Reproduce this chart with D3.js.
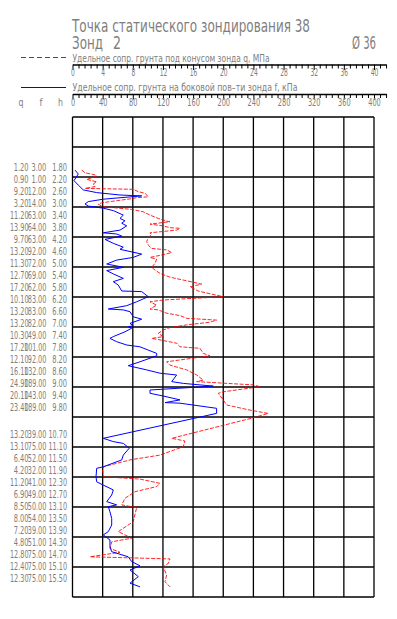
<!DOCTYPE html>
<html>
<head>
<meta charset="utf-8">
<script src="https://cdn.jsdelivr.net/npm/d3@7"></script>
<style>
body { margin: 0; background: #fff; }
svg { display: block; }
</style>
</head>
<body>
<svg width="397" height="619"></svg>
<script>
// cone resistance q, MPa (red) vs depth, m
const depthQ = [1.77, 1.86, 1.93, 1.97, 2.08, 2.16, 2.23, 2.32, 2.38, 2.41, 2.49, 2.54, 2.66, 2.69, 2.73, 2.79, 2.86, 2.91, 2.99,
	3.08, 3.16, 3.27, 3.38, 3.47, 3.49, 3.57, 3.63, 3.69, 3.71, 3.77, 3.86, 3.93, 4.01, 4.16, 4.27, 4.38, 4.43, 4.52, 4.60, 4.68,
	4.74, 4.88, 5.01, 5.10, 5.21, 5.34, 5.46, 5.57, 5.66, 5.74, 5.80, 5.99, 6.10, 6.16, 6.27, 6.40, 6.43, 6.54, 6.62, 6.71, 6.77,
	6.84, 6.93, 7.02, 7.10, 7.21, 7.32, 7.38, 7.43, 7.54, 7.66, 7.71, 7.88, 7.96, 8.16, 8.27, 8.43, 8.60, 8.77, 8.82, 8.93, 8.99,
	9.16, 9.21, 9.43, 9.60, 9.77, 9.88, 10.04, 10.71, 10.80, 10.99, 11.27, 11.43, 11.66, 11.77, 11.99, 12.07, 12.21, 12.32, 12.49,
	12.71, 12.93, 13.02, 13.49, 13.82, 14.04, 14.16, 14.38, 14.51, 14.66, 14.73, 14.88, 14.99, 15.27, 15.49, 15.66];
const valQ = [1.22, 1.66, 2.98, 3.21, 1.88, 3.21, 2.76, 2.98, 1.66, 8.06, 8.73, 9.62, 10.05, 8.51, 7.63, 5.86, 3.87, 3.42, 4.08,
	7.85, 9.39, 10.28, 11.38, 12.49, 12.93, 10.28, 12.04, 12.93, 14.26, 13.82, 10.28, 10.5, 10.05, 9.84, 10.05, 10.5, 12.49, 13.16,
	11.83, 10.28, 11.17, 10.94, 10.5, 10.94, 11.6, 12.93, 15.15, 17.14, 15.58, 16.25, 16.64, 20.0, 12.04, 10.28, 11.17, 10.28,
	11.38, 12.49, 14.26, 15.15, 19.12, 18.24, 15.15, 12.93, 12.04, 11.38, 12.04, 10.5, 11.6, 13.82, 14.26, 16.91, 17.35, 18.24,
	12.49, 12.93, 15.15, 16.47, 17.35, 16.47, 23.98, 24.87, 20.0, 19.34, 20.0, 20.45, 23.54, 25.97, 23.77, 13.16, 14.92, 14.69,
	11.6, 7.63, 4.08, 4.0, 4.08, 8.95, 11.6, 11.17, 8.29, 6.96, 6.53, 8.51, 8.06, 6.07, 7.85, 5.2, 4.97, 6.3, 2.32, 12.93, 12.71,
	12.04, 12.49, 12.27, 12.93];

// sleeve friction f, kPa (blue) vs depth, m
const depthF = [1.77, 1.90, 2.12, 2.27, 2.43, 2.52, 2.60, 2.63, 2.74, 2.82, 2.90, 2.97, 3.04, 3.12, 3.27, 3.38, 3.46, 3.54, 3.63,
	3.77, 3.86, 3.90, 3.97, 4.08, 4.21, 4.34, 4.41, 4.57, 4.68, 4.77, 4.90, 5.01, 5.12, 5.23, 5.38, 5.49, 5.60, 5.80, 5.82, 5.99,
	6.16, 6.29, 6.40, 6.43, 6.49, 6.66, 6.74, 6.88, 6.96, 6.99, 7.04, 7.16, 7.32, 7.38, 7.49, 7.60, 7.66, 7.77, 7.88, 7.96, 8.04,
	8.16, 8.29, 8.43, 8.54, 8.60, 8.82, 8.88, 8.97, 9.10, 9.21, 9.30, 9.43, 9.52, 9.54, 9.71, 9.88, 10.71, 10.82, 10.88, 11.04,
	11.27, 11.43, 11.66, 11.71, 11.99, 12.16, 12.27, 12.43, 12.60, 12.82, 12.93, 12.99, 13.16, 13.38, 13.60, 13.82, 13.93, 14.10,
	14.32, 14.49, 14.66, 14.82, 14.96, 15.10, 15.32, 15.54, 15.66];
const valF = [3.3, 7.7, 2.0, 7.7, 14.3, 32.1, 63.0, 91.8, 40.8, 21.0, 16.6, 21.0, 40.8, 54.1, 67.4, 63.0, 69.6, 65.3, 71.9,
	63.0, 40.8, 58.6, 65.3, 43.1, 54.1, 67.4, 63.0, 91.8, 80.6, 58.6, 45.4, 67.4, 45.4, 54.1, 67.4, 54.1, 60.7, 65.3, 91.8, 100.5,
	85.1, 71.9, 47.5, 67.4, 76.3, 80.6, 91.8, 76.3, 80.6, 74.0, 78.5, 69.6, 54.1, 49.7, 58.6, 71.9, 89.5, 100.5, 111.7, 111.7, 102.8,
	89.5, 74.0, 98.4, 116.0, 138.2, 131.6, 147.0, 186.7, 102.8, 102.8, 120.4, 142.6, 122.7, 142.6, 191.2, 191.2, 40.8, 54.1, 67.4, 75.3,
	67.4, 65.3, 40.8, 32.1, 31.2, 32.1, 40.8, 54.1, 52.0, 45.4, 58.6, 47.5, 49.7, 52.0, 52.0, 47.5, 40.8, 49.7,
	49.7, 52.0, 74.0, 78.5, 89.5, 76.3, 87.3, 76.3, 89.5];

// table on the left: q, f, h
const rowDepth = [1.8, 2.2, 2.6, 3.0, 3.4, 3.8, 4.2, 4.6, 5.0, 5.4, 5.8, 6.2, 6.6, 7.0, 7.4, 7.8, 8.2, 8.6, 9.0, 9.4, 9.8,
	10.7, 11.1, 11.5, 11.9, 12.3, 12.7, 13.1, 13.5, 13.9, 14.3, 14.7, 15.1, 15.5];
const rowQ = ["1.20", "0.90", "9.20", "3.20", "11.20", "13.90", "9.70", "13.20", "11.30", "12.70", "17.20", "10.10", "13.20",
	"13.20", "10.30", "17.20", "12.10", "16.10", "24.90", "20.10", "23.40", "13.20", "13.10", "6.40", "4.20", "11.20", "6.90",
	"8.50", "8.00", "7.20", "4.80", "12.80", "12.40", "12.30"];
const rowF = ["3.00", "1.00", "12.00", "14.00", "63.00", "64.00", "63.00", "92.00", "72.00", "69.00", "62.00", "83.00", "83.00",
	"82.00", "49.00", "101.00", "92.00", "132.00", "189.00", "143.00", "189.00", "39.00", "75.00", "52.00", "32.00", "41.00",
	"49.00", "50.00", "54.00", "39.00", "51.00", "75.00", "75.00", "75.00"];

const title = "Точка статического зондирования 38";
const probe = "Зонд";
const probeNo = "2";
const diameter = "Ø 36";
const legendQ = "Удельное сопр. грунта под конусом зонда q, МПа";
const legendF = "Удельное сопр. грунта на боковой пов–ти зонда f, кПа";

const svg = d3.select("svg");
const font = "'Liberation Sans Narrow', 'DejaVu Sans Condensed', 'Liberation Sans', sans-serif";
const grey = "#7e7e7e";

const xf = d3.scaleLinear().domain([0, 400]).range([72.5, 374]);
const xq = d3.scaleLinear().domain([0, 40]).range([72.5, 374]);
const y = d3.scaleLinear().domain([0, 16]).range([117, 597]);

const label = (g, txt, x, yy, size, len, anchor = "start") =>
	g.append("text")
		.attr("x", x)
		.attr("y", yy)
		.attr("font-size", size)
		.attr("text-anchor", anchor)
		.attr("textLength", len)
		.attr("lengthAdjust", "spacingAndGlyphs")
		.text(txt);

// header
const head = svg.append("g").attr("font-family", font).attr("fill", grey);
label(head, title, 72, 32, 17.5, 238);
label(head, probe, 72, 48.5, 17.5, 31);
label(head, probeNo, 113, 48.5, 17.5, 8);
label(head, diameter, 352, 48.5, 17.5, 24);
label(head, legendQ, 72.5, 61.5, 10.5, 197);
label(head, legendF, 72.5, 90.8, 10.5, 225);
label(head, "q", 21, 105.5, 10.5, 5, "middle");
label(head, "f", 41, 105.5, 10.5, 3, "middle");
label(head, "h", 60.5, 105.5, 10.5, 5, "middle");

svg.append("line").attr("x1", 21).attr("x2", 66).attr("y1", 57.5).attr("y2", 57.5)
	.attr("stroke", "#ff0000").attr("stroke-dasharray", "5,3");
svg.append("line").attr("x1", 21).attr("x2", 66).attr("y1", 87.5).attr("y2", 87.5)
	.attr("stroke", "#0000ff");

// top axes, extended slightly past the grid like the original
const drawAxis = (scale, max, step, yPos, charW) => {
	const ext = scale.copy().domain([0, max]).range([scale(0), scale(max)]);
	const g = svg.append("g").attr("transform", `translate(0, ${yPos})`);
	g.call(
		d3.axisBottom(ext)
			.tickValues(d3.range(Math.round(max / step) + 1).map((i) => i * step))
			.tickSize(4)
			.tickSizeOuter(0)
			.tickFormat((d, i) => (i % 5 === 0 ? Math.round(d) : ""))
	);
	g.select(".domain").attr("stroke", "#000").attr("stroke-width", 1.3);
	g.selectAll(".tick line").attr("stroke", "#000").attr("y2", (d, i) => (i % 5 === 0 ? 5.5 : 4));
	g.selectAll(".tick text")
		.attr("y", 11.5)
		.attr("dy", 0)
		.attr("fill", grey)
		.attr("font-family", font)
		.attr("font-size", 10)
		.filter(function () { return this.textContent !== ""; })
		.attr("textLength", function () { return this.textContent.length * charW; })
		.attr("lengthAdjust", "spacingAndGlyphs");
};
drawAxis(xq, 41.6, 0.8, 64.5, 3.8);
drawAxis(xf, 416, 8, 94, 4.2);

// grid
const grid = svg.append("g").attr("stroke", "#000").attr("stroke-width", 1.3);
grid.selectAll(".v").data(d3.range(0, 401, 40)).join("line").attr("class", "v")
	.attr("x1", xf).attr("x2", xf).attr("y1", y(0)).attr("y2", y(16));
grid.selectAll(".h").data(d3.range(0, 17)).join("line").attr("class", "h")
	.attr("x1", xf(0)).attr("x2", xf(400)).attr("y1", y).attr("y2", y);

// curves
const lineQ = d3.line().x((i) => xq(valQ[i])).y((i) => y(depthQ[i]));
const lineF = d3.line().x((i) => xf(valF[i])).y((i) => y(depthF[i]));
svg.append("path").attr("d", lineQ(d3.range(depthQ.length)))
	.attr("fill", "none").attr("stroke", "#ff0000").attr("stroke-width", 1)
	.attr("stroke-dasharray", "4,1.5").attr("stroke-opacity", 0.85);
svg.append("path").attr("d", lineF(d3.range(depthF.length)))
	.attr("fill", "none").attr("stroke", "#0000ff").attr("stroke-width", 1);

// table rows
const rows = svg.append("g").attr("font-family", font).attr("fill", grey)
	.selectAll("g").data(rowDepth).join("g");
rows.each(function (h, i) {
	const g = d3.select(this);
	[[rowQ[i], 28.5], [rowF[i], 46.3], [h.toFixed(2), 67]].forEach(([t, x]) =>
		label(g, t, x, y(h) - 0.5, 10, t.length * 3.7, "end"));
});
</script>
</body>
</html>
